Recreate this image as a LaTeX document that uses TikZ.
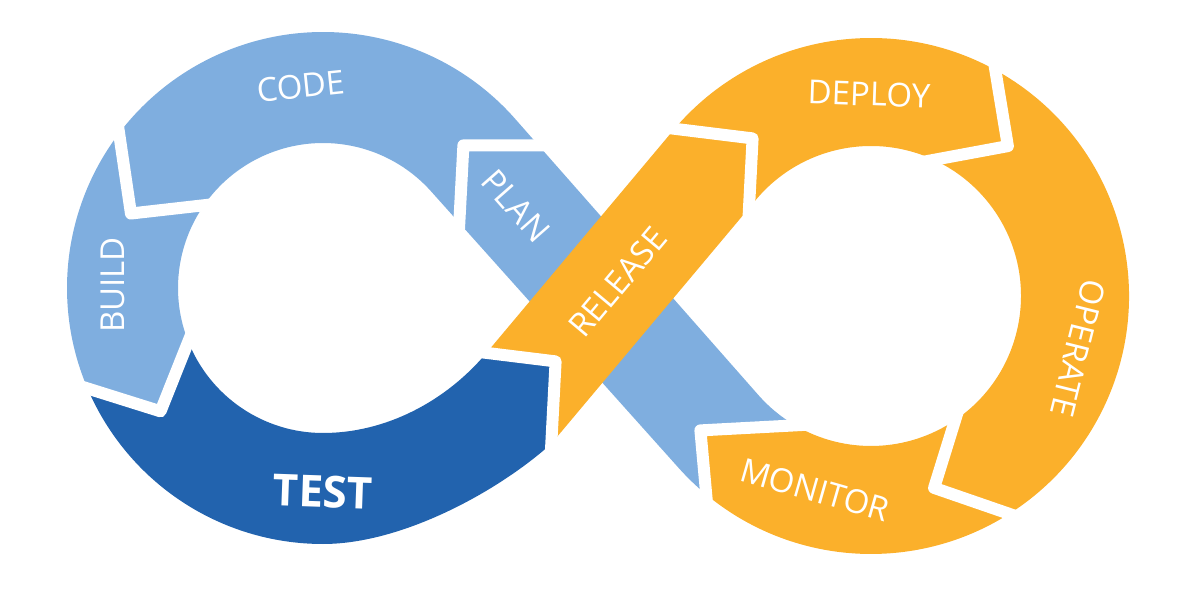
\documentclass[tikz,border=0pt]{standalone}
\usepackage{fontspec}
\setmainfont{Open Sans}
\usetikzlibrary{calc}
\definecolor{lblue}{HTML}{7FAEDF}
\definecolor{dblue}{HTML}{2263AE}
\definecolor{orng}{HTML}{FBB02B}
\begin{document}
\begin{tikzpicture}[x=1pt,y=1pt,
  gapline/.style={draw=white, line width=12pt, line join=round},
  lbl/.style={text=white, font=\fontsize{33}{33}\selectfont, inner sep=0pt},
  boldlbl/.style={text=white, font=\bfseries\fontsize{44}{44}\selectfont, inner sep=0pt}]
\useasboundingbox (0,0) rectangle (1200,595);
% centres
\coordinate (CL) at (323,307);
\coordinate (CR) at (871,299);
% ring chevrons
\coordinate (c1o) at ($(CL)+(142.8:256)$);
\coordinate (c1a) at ($(CL)+(158.8:206)$);
\coordinate (c1i) at ($(CL)+(145.2:145)$);
\coordinate (c2o) at ($(CL)+(203.1:256)$);
\coordinate (c2a) at ($(CL)+(217.2:204)$);
\coordinate (c2i) at ($(CL)+(201.7:145)$);
\coordinate (c3o) at ($(CR)+(61.2:258)$);
\coordinate (c3a) at ($(CR)+(47.6:203)$);
\coordinate (c3i) at ($(CR)+(65.2:150)$);
\coordinate (c4o) at ($(CR)+(-57.6:258)$);
\coordinate (c4a) at ($(CR)+(-71.8:202)$);
\coordinate (c4i) at ($(CR)+(-55.9:150)$);
% strip chevrons
\coordinate (s1o) at (538.5,449.6);
\coordinate (s1a) at (463.4,449.6);
\coordinate (s1i) at (459.3,372.1);
\coordinate (s2i) at (486.5,242.1);
\coordinate (s2a) at (555.6,233.6);
\coordinate (s2o) at (551.3,151.3);
\coordinate (s3o) at ($(CR)+(139.6:258)$);
\coordinate (s3a) at (752.6,456.6);
\coordinate (s3i) at (749.0,386.9);
\coordinate (s4o) at ($(CR)+(230.3:258)$);
\coordinate (s4a) at (700.4,164.6);
\coordinate (s4i) at ($(CR)+(239.6:150)$);
% tangent points
\coordinate (TE1L) at ($(CL)+(41.37:256)$);
\coordinate (TE2L) at ($(CL)+(41.83:145)$);
\coordinate (TE1R) at ($(CR)+(221.37:150)$);
\coordinate (TE2R) at ($(CR)+(221.83:258)$);
\coordinate (TLo) at ($(CL)+(270:256)$);
\coordinate (TLi) at ($(CL)+(270:145)$);

% PLAN (under RELEASE)
\fill[lblue] (s4o) arc[start angle=230.3, end angle=221.83, radius=258]
  -- (s1i) -- (s1a) -- (s1o) -- (TE1R)
  arc[start angle=221.37, end angle=239.6, radius=150] -- (s4a) -- cycle;
% CODE
\fill[lblue] (s1o) -- (TE1L) arc[start angle=41.37, end angle=142.8, radius=256]
  -- (c1a) -- (c1i) arc[start angle=145.2, end angle=41.83, radius=145]
  -- (s1i) -- (s1a) -- cycle;
% BUILD
\fill[lblue] (c1o) arc[start angle=142.8, end angle=203.1, radius=256]
  -- (c2a) -- (c2i) arc[start angle=201.7, end angle=145.2, radius=145]
  -- (c1a) -- cycle;
% TEST
\fill[dblue] (c2o) arc[start angle=203.1, end angle=270, radius=256]
  .. controls (403,51) and (499.3,104.5) .. (s2o) -- (s2a) -- (s2i)
  .. controls (446,193.8) and (386,162) .. (TLi)
  arc[start angle=270, end angle=201.7, radius=145] -- (c2a) -- cycle;
% DEPLOY
\fill[orng] (s3o) arc[start angle=139.6, end angle=61.2, radius=258]
  -- (c3a) -- (c3i) arc[start angle=65.2, end angle=140, radius=150]
  -- (s3i) -- (s3a) -- cycle;
% OPERATE
\fill[orng] (c3o) arc[start angle=61.2, end angle=-57.6, radius=258]
  -- (c4a) -- (c4i) arc[start angle=-55.9, end angle=65.2, radius=150]
  -- (c3a) -- cycle;
% MONITOR
\fill[orng] (c4o) arc[start angle=-57.6, end angle=-129.7, radius=258]
  -- (s4a) -- (s4i) arc[start angle=239.6, end angle=304.1, radius=150]
  -- (c4a) -- cycle;
% RELEASE
\fill[orng] (s2i) -- (s3o) -- (s3a) -- (s3i) -- (s2o) -- (s2a) -- cycle;

% white gaps
\foreach \c in {c1,c2,c3,c4,s1,s2,s3,s4}{
  \draw[gapline] ($(\c a)!1.2!(\c o)$) -- (\c a) -- ($(\c a)!1.2!(\c i)$);
}

% labels
\node[lbl, rotate=6] (code) at (301,509) {CODE};
\node[lbl, rotate=90] (build) at (113,310) {BUILD};
\node[boldlbl, rotate=-2] (test) at (323,103) {TEST};
\node[lbl, rotate=-48.6] (plan) at (516,389) {PLAN};
\node[lbl, rotate=50] (release) at (618,313) {RELEASE};
\node[lbl, rotate=-2] (deploy) at (869,501) {DEPLOY};
\node[lbl, rotate=-104] (operate) at (1078,247) {OPERATE};
\node[lbl, rotate=-16] (monitor) at (815,105) {MONITOR};
\end{tikzpicture}
\end{document}
